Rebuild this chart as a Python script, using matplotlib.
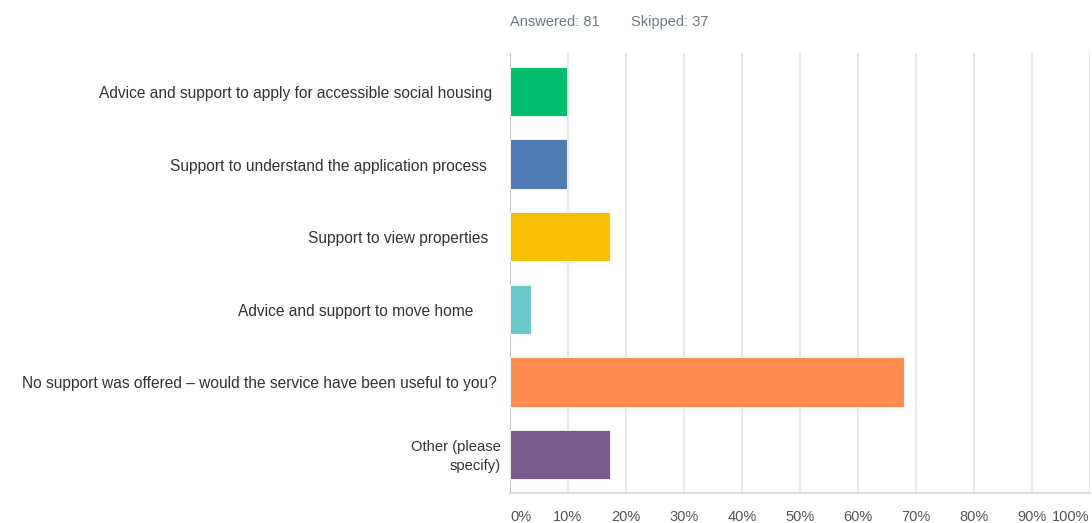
import matplotlib.pyplot as plt

categories = ['Advice and support to apply for accessible social housing',
              'Support to understand the application process',
              'Support to view properties',
              'Advice and support to move home',
              'No support was offered \u2013 would the service have been useful to you?',
              'Other (please\nspecify)']
values = [9.88, 9.88, 17.28, 3.70, 67.90, 17.28]
colors = ['#00bf6f', '#507cb6', '#f9be00', '#6bc8cd', '#ff8b4f', '#7b5a92']
label_shift = [-18, -23, -22, -37, -13, -9]
ticks = list(range(0, 101, 10))
tick_labels = [str(t) + '%' for t in ticks]

plt.rcParams['font.family'] = ['Liberation Sans', 'DejaVu Sans']

fig = plt.figure(figsize=(10.92, 5.23), dpi=100)
ax = fig.add_axes([0.467, 0.0574, 0.531, 0.8413])

y = list(range(len(categories)))
ax.barh(y, values, height=0.68, color=colors, edgecolor='white', linewidth=0.6, zorder=3)
ax.set_ylim(len(categories) - 0.47, -0.53)
ax.set_xlim(0, 100)

for i, lab in enumerate(categories):
    ax.annotate(lab, xy=(0, i), xycoords=('data', 'data'), xytext=(label_shift[i], -2),
                textcoords='offset pixels', ha='right', va='center',
                fontsize=11.2 if i < 5 else 10.6, color='#333333', linespacing=1.5)

ax.set_yticks([])
ax.set_xticks(ticks)
ax.set_xticklabels(tick_labels, fontsize=10.5, color='#555555')
for t, lbl in zip(ticks, ax.get_xticklabels()):
    if t == 0:
        lbl.set_ha('left')
    elif t == 100:
        lbl.set_ha('right')
ax.tick_params(axis='x', length=0, pad=12)
ax.grid(axis='x', color='#e9e9e9', linewidth=1.5, zorder=0)

for s in ['top', 'right']:
    ax.spines[s].set_visible(False)
ax.spines['left'].set_color('#c8c8c8')
ax.spines['bottom'].set_color('#dddddd')
ax.spines['bottom'].set_linewidth(1.5)

fig.text(510 / 1092, 1 - 22 / 523, 'Answered: 81', ha='left', va='center', fontsize=10.5, color='#6c7a89')
fig.text(631 / 1092, 1 - 22 / 523, 'Skipped: 37', ha='left', va='center', fontsize=10.5, color='#6c7a89')

fig.savefig('out.png', dpi=100)
